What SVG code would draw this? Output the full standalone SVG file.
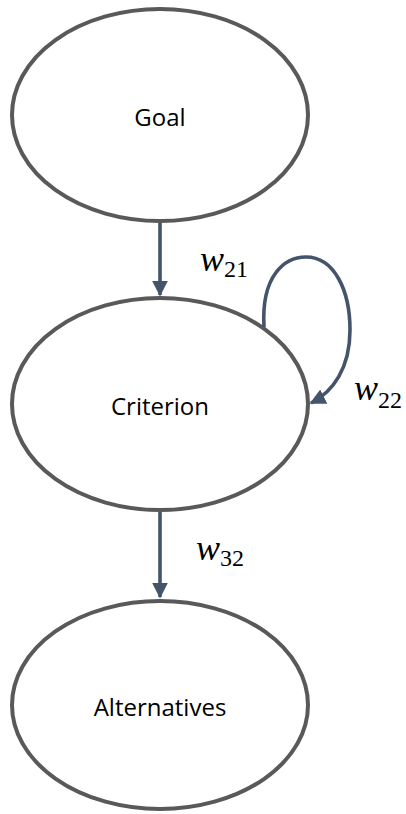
<svg xmlns="http://www.w3.org/2000/svg" width="406" height="814" viewBox="0 0 406 814">
<style>
.node{fill:#fff;stroke:#595959;stroke-width:4}
.lbl{font-family:"Open Sans","Liberation Sans",sans-serif;font-size:24px;fill:#000;text-anchor:middle}
.edge{fill:none;stroke:#44546A;stroke-width:3.6}
.w{font-family:"Liberation Serif",serif;font-style:italic;font-size:36px;fill:#000}
.s{font-family:"Liberation Serif",serif;font-size:24px;fill:#000}
</style>
<defs>
<marker id="ah" viewBox="0 0 10 10" refX="9" refY="5" markerWidth="4.4" markerHeight="4.4" orient="auto" markerUnits="strokeWidth">
<path d="M0,0 L10,5 L0,10 Z" fill="#44546A"/>
</marker>
</defs>
<g id="goal"><ellipse class="node" cx="160" cy="115" rx="148" ry="106"/><text class="lbl" x="160" y="126">Goal</text></g>
<g id="criterion"><ellipse class="node" cx="160" cy="404" rx="148" ry="106"/><text class="lbl" x="160" y="415">Criterion</text></g>
<g id="alternatives"><ellipse class="node" cx="160" cy="705" rx="148" ry="104"/><text class="lbl" x="160" y="716">Alternatives</text></g>
<g id="connectors">
<path class="edge" d="M160,223 L160,295" marker-end="url(#ah)"/>
<path class="edge" d="M160,512 L160,597" marker-end="url(#ah)"/>
<path class="edge" d="M264,327 C261,275 285,257 306,257 C334,257 350,290 350,330 C350,368 333,392 311,403" marker-end="url(#ah)"/>
</g>
<g id="labels">
<text x="200" y="271"><tspan class="w">w</tspan><tspan class="s" dy="6">21</tspan></text>
<text x="354" y="400"><tspan class="w">w</tspan><tspan class="s" dy="8">22</tspan></text>
<text x="196" y="560"><tspan class="w">w</tspan><tspan class="s" dy="6">32</tspan></text>
</g>
</svg>
